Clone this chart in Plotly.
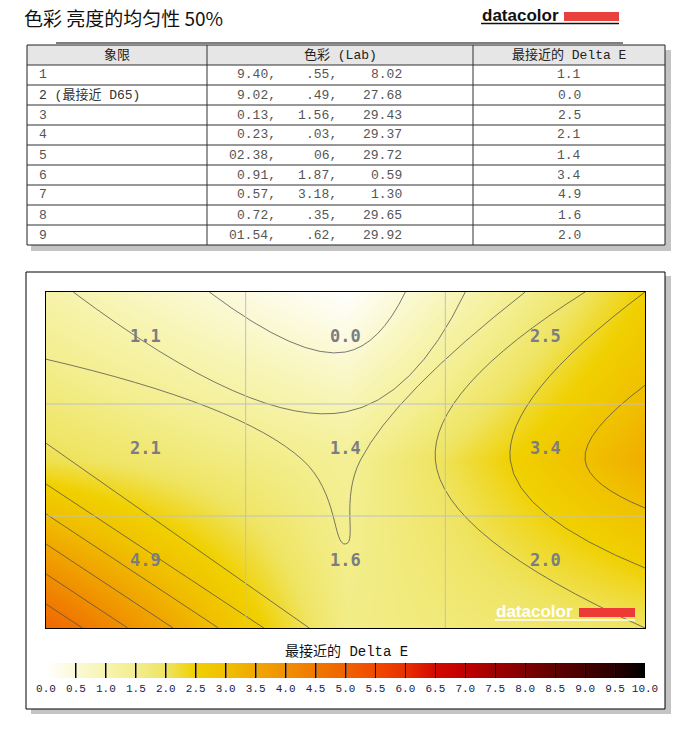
import plotly.graph_objects as go

# ---------------- data ----------------
quadrants = ["1", "2 (最接近 D65)", "3", "4", "5", "6", "7", "8", "9"]
lab_L = ["9.40,", "9.02,", "0.13,", "0.23,", "02.38,", "0.91,", "0.57,", "0.72,", "01.54,"]
lab_a = [".55,", ".49,", "1.56,", ".03,", "06,", "1.87,", "3.18,", ".35,", ".62,"]
lab_b = ["8.02", "27.68", "29.43", "29.37", "29.72", "0.59", "1.30", "29.65", "29.92"]
delta_e = [1.1, 0.0, 2.5, 2.1, 1.4, 3.4, 4.9, 1.6, 2.0]
cbar_ticks = [i * 0.5 for i in range(21)]
cbar_labels = ["%.1f" % v for v in cbar_ticks]

# ---------------- helpers ----------------
W, H = 685, 745
def px(x):
    return x / W
def py(y):
    return 1 - y / H

# 3x3 grid (row-major, top row first)
rows_top_first = [delta_e[0:3], delta_e[3:6], delta_e[6:9]]
z = rows_top_first[::-1]          # bottom row first for increasing y
grid_pos = [0, 1.5, 3]            # value positions spanning the map
label_pos = [0.5, 1.5, 2.5]       # cell centres

colorscale = [
    [0.00, "#ffffff"], [0.05, "#fbf9d6"], [0.10, "#f7f4b0"], [0.15, "#f3ee8e"],
    [0.20, "#efe462"], [0.25, "#f0d000"], [0.30, "#f0c000"], [0.35, "#f0a800"],
    [0.40, "#f09000"], [0.45, "#f07800"], [0.50, "#f06200"], [0.55, "#f04a00"],
    [0.60, "#e83000"], [0.65, "#d40800"], [0.70, "#c00000"], [0.75, "#a00000"],
    [0.80, "#800000"], [0.85, "#600000"], [0.90, "#460000"], [0.95, "#280000"],
    [1.00, "#000000"],
]

PL, PR, PT, PB = 46, 645, 292, 628

fig = go.Figure()
fig.add_trace(go.Contour(
    x=grid_pos, y=grid_pos, z=z,
    zmin=0, zmax=10, zauto=False,
    colorscale=colorscale,
    autocontour=False,
    contours=dict(start=0.5, end=9.5, size=0.5, coloring="heatmap", showlines=True),
    line=dict(color="#4e4e4e", width=0.75, smoothing=1.3),
    hoverinfo="skip",
    colorbar=dict(
        orientation="h",
        x=px((PL + PR) / 2), xanchor="center",
        y=py(663), yanchor="top",
        len=(PR - PL) / W, lenmode="fraction",
        thickness=15, thicknessmode="pixels",
        xpad=0, ypad=0,
        outlinewidth=0,
        tickmode="array", tickvals=cbar_ticks, ticktext=cbar_labels,
        ticks="inside", ticklen=15, tickwidth=1, tickcolor="#000000",
        tickfont=dict(family="Liberation Mono", size=11, color="#1c1c44"),
        title=dict(text=""),
    ),
))

shapes = []
# table shadow + frame
shapes.append(dict(type="rect", xref="paper", yref="paper", layer="below",
                   x0=px(31), x1=px(671), y0=py(50), y1=py(251),
                   fillcolor="#c4c4c4", line=dict(width=0)))
shapes.append(dict(type="rect", xref="paper", yref="paper", layer="below",
                   x0=px(27), x1=px(665), y0=py(45), y1=py(245),
                   fillcolor="#ffffff", line=dict(width=0)))
shapes.append(dict(type="rect", xref="paper", yref="paper", layer="below",
                   x0=px(27), x1=px(665), y0=py(45), y1=py(65),
                   fillcolor="#e6e6e6", line=dict(width=0)))
shapes.append(dict(type="rect", xref="paper", yref="paper",
                   x0=px(27), x1=px(665), y0=py(45), y1=py(245),
                   fillcolor="rgba(0,0,0,0)", line=dict(color="#202020", width=1)))
for k in range(9):
    yy = 65 + 20 * k
    shapes.append(dict(type="line", xref="paper", yref="paper",
                       x0=px(27), x1=px(665), y0=py(yy), y1=py(yy),
                       line=dict(color="#303030", width=1)))
for xx in (207, 473):
    shapes.append(dict(type="line", xref="paper", yref="paper",
                       x0=px(xx), x1=px(xx), y0=py(45), y1=py(245),
                       line=dict(color="#303030", width=1)))
# separator line above table
shapes.append(dict(type="line", xref="paper", yref="paper",
                   x0=px(56), x1=px(623), y0=py(43), y1=py(43),
                   line=dict(color="#000000", width=1.2)))
# chart box shadow + frame
shapes.append(dict(type="rect", xref="paper", yref="paper", layer="below",
                   x0=px(31), x1=px(671), y0=py(276), y1=py(714),
                   fillcolor="#c4c4c4", line=dict(width=0)))
shapes.append(dict(type="rect", xref="paper", yref="paper", layer="below",
                   x0=px(26), x1=px(665), y0=py(272), y1=py(709),
                   fillcolor="#ffffff", line=dict(color="#000000", width=1)))
# grid lines above the map
for g in (1, 2):
    shapes.append(dict(type="line", xref="x", yref="y", layer="above",
                       x0=g, x1=g, y0=0, y1=3, line=dict(color="#bcc0cc", width=1)))
    shapes.append(dict(type="line", xref="x", yref="y", layer="above",
                       x0=0, x1=3, y0=g, y1=g, line=dict(color="#bcc0cc", width=1)))
# datacolor logo (top)
shapes.append(dict(type="rect", xref="paper", yref="paper",
                   x0=px(564), x1=px(619), y0=py(12), y1=py(21),
                   fillcolor="#e8403c", line=dict(width=0)))
shapes.append(dict(type="line", xref="paper", yref="paper",
                   x0=px(481), x1=px(619), y0=py(23.5), y1=py(23.5),
                   line=dict(color="#111111", width=1.5)))
# datacolor watermark (in map)
shapes.append(dict(type="rect", xref="paper", yref="paper",
                   x0=px(579), x1=px(635), y0=py(608), y1=py(617),
                   fillcolor="#ee3a36", line=dict(width=0)))
shapes.append(dict(type="line", xref="paper", yref="paper",
                   x0=px(495), x1=px(635), y0=py(620), y1=py(620),
                   line=dict(color="#ffffff", width=1.5)))

ann = []
ann.append(dict(text="色彩 亮度的均匀性 50%", x=px(22), y=py(17), xref="paper", yref="paper",
                xanchor="left", yanchor="middle", showarrow=False,
                font=dict(family="Noto Sans CJK SC", size=19, color="#111111")))
ann.append(dict(text="<b>datacolor</b>", x=px(480), y=py(16), xref="paper", yref="paper",
                xanchor="left", yanchor="middle", showarrow=False,
                font=dict(family="Liberation Sans", size=17, color="#111111")))
ann.append(dict(text="<b>datacolor</b>", x=px(494), y=py(611), xref="paper", yref="paper",
                xanchor="left", yanchor="middle", showarrow=False,
                font=dict(family="Liberation Sans", size=17, color="#ffffff")))

tfont = dict(family="Liberation Mono, Noto Sans CJK SC", size=13, color="#555555")
hfont = dict(family="Liberation Mono, Noto Sans CJK SC", size=13, color="#222222")
for txt, xc in (("象限", 117), ("色彩 (Lab)", 340), ("最接近的 Delta E", 569)):
    ann.append(dict(text=txt, x=px(xc), y=py(55), xref="paper", yref="paper",
                    xanchor="center", yanchor="middle", showarrow=False, font=hfont))
for i in range(9):
    yc = py(75 + 20 * i)
    ann.append(dict(text=quadrants[i], x=px(37), y=yc, xref="paper", yref="paper",
                    xanchor="left", yanchor="middle", showarrow=False,
                    font=dict(tfont, color="#333333" if i == 1 else "#555555")))
    ann.append(dict(text=lab_L[i], x=px(278), y=yc, xref="paper", yref="paper",
                    xanchor="right", yanchor="middle", showarrow=False, font=tfont))
    ann.append(dict(text=lab_a[i], x=px(339), y=yc, xref="paper", yref="paper",
                    xanchor="right", yanchor="middle", showarrow=False, font=tfont))
    ann.append(dict(text=lab_b[i], x=px(404), y=yc, xref="paper", yref="paper",
                    xanchor="right", yanchor="middle", showarrow=False, font=tfont))
    ann.append(dict(text="%.1f" % delta_e[i], x=px(569), y=yc, xref="paper", yref="paper",
                    xanchor="center", yanchor="middle", showarrow=False, font=tfont))

# value labels in the map
for r in range(3):
    for c in range(3):
        ann.append(dict(text="<b>%.1f</b>" % rows_top_first[r][c],
                        x=label_pos[c], y=label_pos[2 - r], xref="x", yref="y",
                        yshift=12, showarrow=False,
                        font=dict(family="DejaVu Sans Mono", size=17, color="#7c7c84")))

ann.append(dict(text="最接近的 Delta E", x=px(346), y=py(651), xref="paper", yref="paper",
                xanchor="center", yanchor="middle", showarrow=False,
                font=dict(family="Liberation Mono, Noto Sans CJK SC", size=14, color="#111111")))

fig.update_layout(
    width=W, height=H,
    margin=dict(l=0, r=0, t=0, b=0),
    paper_bgcolor="#ffffff", plot_bgcolor="#ffffff",
    showlegend=False,
    xaxis=dict(domain=[px(PL), px(PR)], range=[0, 3], showticklabels=False, ticks="",
               showgrid=False, zeroline=False, showline=True, mirror=True,
               linecolor="#000000", linewidth=1, layer="above traces", fixedrange=True),
    yaxis=dict(domain=[py(PB), py(PT)], range=[0, 3], showticklabels=False, ticks="",
               showgrid=False, zeroline=False, showline=True, mirror=True,
               linecolor="#000000", linewidth=1, layer="above traces", fixedrange=True),
    shapes=shapes,
    annotations=ann,
)

fig.write_html("out.html")
